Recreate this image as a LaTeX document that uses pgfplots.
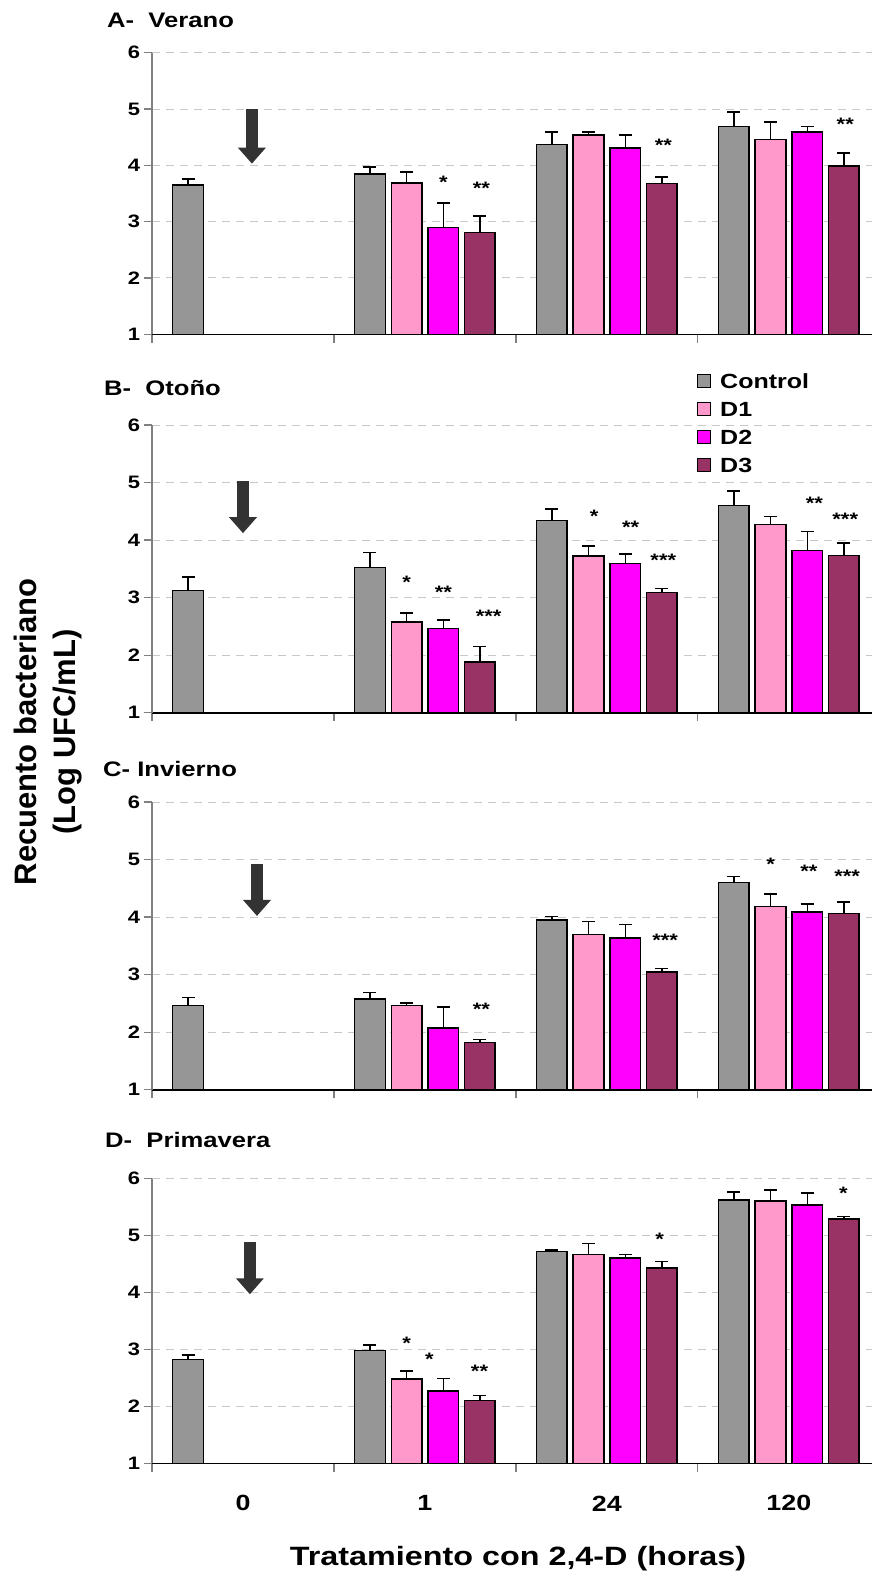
\documentclass[border=0pt]{standalone}
\usepackage{fontspec}
\setmainfont{Liberation Sans}
\newfontfamily\wf[FakeStretch=1.22]{Liberation Sans}
\usepackage{pgfplots}
\pgfplotsset{compat=1.18}
\usetikzlibrary{arrows.meta}
\definecolor{cC}{HTML}{969696}
\definecolor{cDa}{HTML}{FF99CC}
\definecolor{cDb}{HTML}{FF00FF}
\definecolor{cDc}{HTML}{993366}
\definecolor{arrowc}{HTML}{333333}
\definecolor{gridc}{HTML}{C8C8C8}
\definecolor{axc}{HTML}{808080}
\tikzset{bigarrow/.style={arrowc, line width=12.5pt, -{Triangle[width=27pt,length=16pt]}}}
\pgfplotsset{
  panel/.style={
    scale only axis, width=720pt, xmin=-0.5, xmax=3.457, ymin=1, ymax=6,
    axis x line*=bottom, axis y line*=left,
    x axis line style={black, line width=1.6pt, -},
    y axis line style={axc, line width=1.2pt, -},
    ytick={1,2,3,4,5,6}, yticklabels={1,2,3,4,5,6},
    xtick={-0.5,0.5,1.5,2.5}, xticklabels={},
    extra x ticks={0,1,2,3},
    extra x tick style={major tick length=0pt, grid=none},
    tick style={axc, line width=1.2pt},
    major tick length=8.5pt, tick align=outside,
    ymajorgrids, grid style={gridc, line width=1pt, dash pattern=on 8pt off 6pt},
    yticklabel style={font=\wf\bfseries\fontsize{18}{20}\selectfont},
    xticklabel style={font=\wf\bfseries\fontsize{22}{24}\selectfont, anchor=center, yshift=-40pt},
    clip=true,
  },
  errs/.style={error bars/.cd, y dir=plus, y explicit, error mark=|,
    error bar style={black, line width=1.4pt},
    error mark options={black, line width=1.4pt, mark size=6.5pt}},
  bC/.style={ybar, bar width=0.168, bar shift=0pt, fill=cC, draw=black, line width=1.5pt,
    legend image code/.code={\draw[fill=cC, draw=black, line width=1pt] (0pt,-6.5pt) rectangle (13pt,6.5pt);}, errs},
  bDa/.style={ybar, bar width=0.168, bar shift=0pt, fill=cDa, draw=black, line width=1.5pt,
    legend image code/.code={\draw[fill=cDa, draw=black, line width=1pt] (0pt,-6.5pt) rectangle (13pt,6.5pt);}, errs},
  bDb/.style={ybar, bar width=0.168, bar shift=0pt, fill=cDb, draw=black, line width=1.5pt,
    legend image code/.code={\draw[fill=cDb, draw=black, line width=1pt] (0pt,-6.5pt) rectangle (13pt,6.5pt);}, errs},
  bDc/.style={ybar, bar width=0.168, bar shift=0pt, fill=cDc, draw=black, line width=1.5pt,
    legend image code/.code={\draw[fill=cDc, draw=black, line width=1pt] (0pt,-6.5pt) rectangle (13pt,6.5pt);}, errs},
  stars/.style={only marks, mark=none, point meta=explicit symbolic,
    nodes near coords={\pgfplotspointmeta},
    nodes near coords style={anchor=center, yshift=-4pt, inner sep=0pt, text=black,
      font=\wf\bfseries\fontsize{18}{20}\selectfont}},
}
\begin{document}
\begin{tikzpicture}
\useasboundingbox (0,0) rectangle (872pt,-1575pt);
\clip (0,0) rectangle (872pt,-1575pt);

% bar centres: Control = k-0.302, D1 = k-0.101, D2 = k+0.101, D3 = k+0.302
% ---------------- A - Verano
\begin{axis}[panel, at={(152pt,-52.7pt)}, anchor=north west, height=281.6pt, extra x tick labels={}]
\addplot[bC] coordinates {(-0.302,3.65) +- (0,0.11) (0.698,3.85) +- (0,0.12) (1.698,4.37) +- (0,0.22) (2.698,4.69) +- (0,0.26)};
\addplot[bDa] coordinates {(0.899,3.69) +- (0,0.19) (1.899,4.54) +- (0,0.05) (2.899,4.46) +- (0,0.31)};
\addplot[bDb] coordinates {(1.101,2.90) +- (0,0.43) (2.101,4.31) +- (0,0.23) (3.101,4.59) +- (0,0.10)};
\addplot[bDc] coordinates {(1.302,2.81) +- (0,0.29) (2.302,3.68) +- (0,0.11) (3.302,3.99) +- (0,0.23)};
\addplot[stars] coordinates {(1.101,3.77) [*] (1.31,3.66) [**] (2.31,4.43) [**] (3.31,4.80) [**]};
\draw[bigarrow] (axis cs:0.049,5.0) -- (axis cs:0.049,4.03);
\end{axis}

% ---------------- B - Otono
\begin{axis}[panel, at={(152pt,-425pt)}, anchor=north west, height=287.7pt, extra x tick labels={},
  legend style={at={(axis description cs:0.757,1.18)}, anchor=north west, draw=none, fill=none,
    inner sep=0pt, row sep=13pt, column sep=0pt,
    nodes={inner sep=0pt, text height=15pt, text depth=0pt, right},
    font=\wf\bfseries\fontsize{20.5}{22}\selectfont},
  legend cell align=left]
\addplot[bC] coordinates {(-0.302,3.12) +- (0,0.24) (0.698,3.52) +- (0,0.26) (1.698,4.34) +- (0,0.20) (2.698,4.60) +- (0,0.25)};
\addlegendentry{\hspace{9pt}Control}
\addplot[bDa] coordinates {(0.899,2.58) +- (0,0.15) (1.899,3.72) +- (0,0.18) (2.899,4.27) +- (0,0.14)};
\addlegendentry{\hspace{9pt}D1}
\addplot[bDb] coordinates {(1.101,2.46) +- (0,0.15) (2.101,3.59) +- (0,0.17) (3.101,3.82) +- (0,0.33)};
\addlegendentry{\hspace{9pt}D2}
\addplot[bDc] coordinates {(1.302,1.88) +- (0,0.27) (2.302,3.09) +- (0,0.07) (3.302,3.73) +- (0,0.22)};
\addlegendentry{\hspace{9pt}D3}
\addplot[stars, forget plot] coordinates {(0.899,3.34) [*] (1.101,3.17) [**] (1.35,2.74) [***]
  (1.93,4.49) [*] (2.13,4.29) [**] (2.31,3.71) [***] (3.14,4.71) [**] (3.31,4.43) [***]};
\draw[bigarrow] (axis cs:0.0,5.03) -- (axis cs:0.0,4.12);
\end{axis}

% ---------------- C - Invierno
\begin{axis}[panel, at={(152pt,-802pt)}, anchor=north west, height=287.7pt, extra x tick labels={}]
\addplot[bC] coordinates {(-0.302,2.46) +- (0,0.14) (0.698,2.58) +- (0,0.11) (1.698,3.95) +- (0,0.06) (2.698,4.60) +- (0,0.11)};
\addplot[bDa] coordinates {(0.899,2.46) +- (0,0.05) (1.899,3.70) +- (0,0.22) (2.899,4.18) +- (0,0.22)};
\addplot[bDb] coordinates {(1.101,2.07) +- (0,0.37) (2.101,3.64) +- (0,0.23) (3.101,4.09) +- (0,0.14)};
\addplot[bDc] coordinates {(1.302,1.82) +- (0,0.05) (2.302,3.05) +- (0,0.06) (3.302,4.06) +- (0,0.20)};
\addplot[stars] coordinates {(1.31,2.46) [**] (2.32,3.67) [***] (2.90,4.98) [*] (3.11,4.86) [**] (3.32,4.77) [***]};
\draw[bigarrow] (axis cs:0.077,4.92) -- (axis cs:0.077,4.02);
\end{axis}

% ---------------- D - Primavera
\begin{axis}[panel, at={(152pt,-1178.7pt)}, anchor=north west, height=284.6pt, extra x tick labels={0,1,24,120}]
\addplot[bC] coordinates {(-0.302,2.82) +- (0,0.08) (0.698,2.98) +- (0,0.10) (1.698,4.72) +- (0,0.03) (2.698,5.63) +- (0,0.14)};
\addplot[bDa] coordinates {(0.899,2.48) +- (0,0.14) (1.899,4.67) +- (0,0.19) (2.899,5.61) +- (0,0.19)};
\addplot[bDb] coordinates {(1.101,2.27) +- (0,0.22) (2.101,4.61) +- (0,0.06) (3.101,5.54) +- (0,0.21)};
\addplot[bDc] coordinates {(1.302,2.10) +- (0,0.09) (2.302,4.43) +- (0,0.12) (3.302,5.29) +- (0,0.05)};
\addplot[stars] coordinates {(0.899,3.17) [*] (1.025,2.90) [*] (1.30,2.68) [**] (2.29,5.01) [*] (3.30,5.82) [*]};
\draw[bigarrow] (axis cs:0.038,4.88) -- (axis cs:0.038,3.97);
\end{axis}

% ---------------- texts
\node[anchor=base west, inner sep=0pt, font=\wf\bfseries\fontsize{21}{24}\selectfont] at (107pt,-27pt) {A-\ \ Verano};
\node[anchor=base west, inner sep=0pt, font=\wf\bfseries\fontsize{21}{24}\selectfont] at (104pt,-395pt) {B-\ \ Otoño};
\node[anchor=base west, inner sep=0pt, font=\wf\bfseries\fontsize{21}{24}\selectfont] at (103pt,-776pt) {C- Invierno};
\node[anchor=base west, inner sep=0pt, font=\wf\bfseries\fontsize{21}{24}\selectfont] at (105pt,-1147pt) {D-\ \ Primavera};
\node[rotate=90, align=center, inner sep=0pt, font=\bfseries\fontsize{31}{39}\selectfont] at (48pt,-732pt) {Recuento bacteriano\\(Log UFC/mL)};
\node[anchor=base, inner sep=0pt, font=\wf\bfseries\fontsize{26.5}{30}\selectfont] at (518pt,-1565pt) {Tratamiento con 2,4-D (horas)};
\end{tikzpicture}
\end{document}
